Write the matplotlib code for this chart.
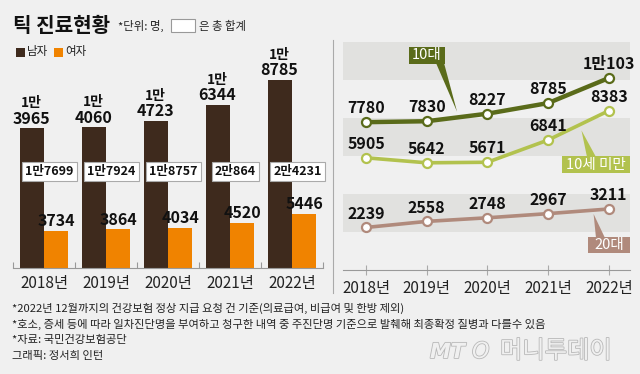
import matplotlib
matplotlib.use("Agg")
import matplotlib.pyplot as plt
import matplotlib.patheffects as pe
from matplotlib.patches import Rectangle, Polygon
from matplotlib.lines import Line2D
import numpy as np

# ---------------- data ----------------
years = ['2018년', '2019년', '2020년', '2021년', '2022년']
male = [13965, 14060, 14723, 16344, 18785]
female = [3734, 3864, 4034, 4520, 5446]
total = [17699, 17924, 18757, 20864, 24231]
teen = [7780, 7830, 8227, 8785, 10103]        # 10대
under10 = [5905, 5642, 5671, 6841, 8383]      # 10세 미만
twenties = [2239, 2558, 2748, 2967, 3211]     # 20대

title = '틱 진료현황'
notes = ['*2022년 12월까지의 건강보험 정상 지급 요청 건 기준(의료급여, 비급여 및 한방 제외)',
         '*호소, 증세 등에 따라 일차진단명을 부여하고 청구한 내역 중 주진단명 기준으로 발췌해 최종확정 질병과 다를수 있음',
         '*자료: 국민건강보험공단',
         '그래픽: 정서희 인턴']

# ---------------- style ----------------
BG = '#f0f0f0'
BAND = '#e1e1df'
BROWN = '#3e2a1d'
ORANGE = '#f08300'
DGREEN = '#5a6b1a'
LGREEN = '#b2c24e'
ROSE = '#b08a7c'

NUM = ['Liberation Sans Narrow', 'Noto Sans CJK KR', 'DejaVu Sans']
KR = ['Noto Sans CJK KR', 'DejaVu Sans']
plt.rcParams['font.family'] = KR

W, H = 640, 374
fig = plt.figure(figsize=(W / 100, H / 100), dpi=100, facecolor=BG)


def fx(x):
    return x / W


def fy(y):
    return 1 - y / H


def man(v):
    return f"{v // 10000}만{v % 10000}" if v >= 10000 else f"{v}"


# ---------------- header ----------------
fig.text(fx(13), fy(25), title, fontsize=14.5, fontweight='bold', va='center', ha='left', color='#111')
fig.text(fx(118), fy(26), '*단위: 명,', fontsize=8.2, va='center', ha='left', color='#222')
fig.patches.append(Rectangle((fx(171), fy(32)), fx(24), 13 / H, transform=fig.transFigure,
                             facecolor='white', edgecolor='#999', lw=0.8))
fig.text(fx(199), fy(26), '은 총 합계', fontsize=8.2, va='center', ha='left', color='#222')

# legend
fig.patches.append(Rectangle((fx(16), fy(57)), fx(9), 9 / H, transform=fig.transFigure,
                             facecolor=BROWN, edgecolor='none'))
fig.text(fx(27), fy(52), '남자', fontsize=8.3, va='center', ha='left', color='#222')
fig.patches.append(Rectangle((fx(54), fy(57)), fx(9), 9 / H, transform=fig.transFigure,
                             facecolor=ORANGE, edgecolor='none'))
fig.text(fx(65), fy(52), '여자', fontsize=8.3, va='center', ha='left', color='#222')

# ---------------- left: bars ----------------
axL = fig.add_axes([fx(13), fy(268), fx(310), (268 - 60) / H])
axL.set_facecolor('none')
x = np.arange(len(years))
bw = 0.385
axL.bar(x - 0.2, male, width=bw, color=BROWN, zorder=2)
axL.bar(x + 0.2, female, width=bw, color=ORANGE, zorder=2)
axL.set_xlim(-0.5, len(years) - 0.5)
axL.set_ylim(0, 20800)
for s in ['top', 'right', 'left']:
    axL.spines[s].set_visible(False)
axL.spines['bottom'].set_color('#999')
axL.spines['bottom'].set_linewidth(0.8)
axL.set_yticks([])
axL.set_xticks(x)
axL.set_xticklabels(years, family=NUM, fontsize=11, color='#222')
axL.tick_params(axis='x', which='major', length=0, pad=5)
axL.set_xticks(np.arange(-0.5, len(years)), minor=True)
axL.tick_params(axis='x', which='minor', direction='in', length=4, color='#999', width=0.8)

for i in range(len(years)):
    v = male[i]
    axL.annotate(f"{v % 10000}", (x[i] - 0.2, v), xytext=(0, 7), textcoords='offset points',
                 ha='center', va='center', family=NUM, fontsize=11.5, fontweight='bold', color='#111')
    axL.annotate(f"{v // 10000}만", (x[i] - 0.2, v), xytext=(0, 18), textcoords='offset points',
                 ha='center', va='center', family=NUM, fontsize=10, fontweight='bold', color='#111')
    f = female[i]
    axL.annotate(f"{f}", (x[i] + 0.2, f), xytext=(0, 7), textcoords='offset points',
                 ha='center', va='center', family=NUM, fontsize=11.5, fontweight='bold', color='#111')
    axL.text(x[i] + 0.09, 0.465, man(total[i]), transform=axL.get_xaxis_transform(),
             ha='center', va='center', family=NUM, fontsize=9, fontweight='bold', color='#111',
             bbox=dict(boxstyle='square,pad=0.25', facecolor='white', edgecolor='#aaa', lw=0.8), zorder=4)

# separator
fig.add_artist(Line2D([fx(333), fx(333)], [fy(40), fy(293)], transform=fig.transFigure,
                      color='#aaa', lw=0.8))

# ---------------- right: lines ----------------
axR = fig.add_axes([fx(343), fy(270), fx(287), (270 - 42) / H])
axR.set_facecolor('none')
axR.set_xlim(-0.38, 4.35)
axR.set_ylim(0, 12000)
for lo in (2000, 6000, 10000):
    axR.axhspan(lo, lo + 2000, color=BAND, zorder=0, lw=0)
for s in ['top', 'right', 'left']:
    axR.spines[s].set_visible(False)
axR.spines['bottom'].set_color('#999')
axR.spines['bottom'].set_linewidth(0.8)
axR.set_yticks([])
axR.set_xticks(x)
axR.set_xticklabels(years, family=NUM, fontsize=11, color='#222')
axR.tick_params(axis='x', direction='inout', length=7, color='#aaa', width=0.8, pad=4)

series = [(teen, DGREEN, 3.2), (under10, LGREEN, 2.6), (twenties, ROSE, 2.6)]
for vals, col, lw in series:
    axR.plot(x, vals, color=col, lw=lw, marker='o', ms=6.5, mfc='white', mec=col, mew=1.6,
             zorder=3, solid_capstyle='round')
    for i, v in enumerate(vals):
        axR.annotate(man(v), (x[i], v), xytext=(0, 10), textcoords='offset points',
                     ha='center', va='center', family=NUM, fontsize=11.5, fontweight='bold',
                     color='#111', zorder=5)


def px_of(ax, xd, yd):
    d = ax.transData.transform((xd, yd))
    return d[0], H - d[1]


def label_box(x0, y0, x1, y1, base, tip, text, col):
    tx, ty = tip
    poly = Polygon([(fx(base[0][0]), fy(base[0][1])), (fx(base[1][0]), fy(base[1][1])),
                    (fx(tx), fy(ty))], closed=True, transform=fig.transFigure,
                   facecolor=col, edgecolor='none', zorder=6)
    fig.patches.append(poly)
    fig.patches.append(Rectangle((fx(x0), fy(y1)), fx(x1 - x0), (y1 - y0) / H,
                                 transform=fig.transFigure, facecolor=col, edgecolor='none', zorder=6))
    fig.text(fx((x0 + x1) / 2), fy((y0 + y1) / 2), text, ha='center', va='center',
             family=NUM, fontsize=10.5, color='white', zorder=7)


t1 = px_of(axR, 1.5, (teen[1] + teen[2]) / 2 + 300)
label_box(409, 47, 445, 64, [(436, 63), (444, 63)], t1, '10대', DGREEN)
t2 = px_of(axR, 3.55, (under10[3] + under10[4]) / 2)
label_box(562, 156, 630, 173, [(587, 157), (596, 157)], (t2[0], t2[1] + 5), '10세 미만', LGREEN)
t3 = px_of(axR, 3.75, twenties[4])
label_box(588, 237, 630, 253, [(596, 238), (605, 238)], (t3[0], t3[1] + 5), '20대', ROSE)

# ---------------- footnotes ----------------
for k, line in enumerate(notes):
    fig.text(fx(12), fy(308 + 16 * k), line, fontsize=8.1, va='center', ha='left', color='#222')

# watermark
stroke = [pe.withStroke(linewidth=1.2, foreground='#b8b8b8')]
fig.text(fx(430), fy(352), 'MT', fontsize=15, fontstyle='italic', fontweight='bold',
         family=['DejaVu Sans'], color=BG, va='center', ha='left', path_effects=stroke)
fig.text(fx(472), fy(352), 'O', fontsize=16, fontstyle='italic',
         family=['DejaVu Sans'], color=BG, va='center', ha='left', path_effects=stroke)
fig.text(fx(500), fy(351), '머니투데이', fontsize=17.5, color=BG, va='center', ha='left',
         path_effects=stroke)

fig.savefig('out.png', dpi=100, facecolor=BG)
